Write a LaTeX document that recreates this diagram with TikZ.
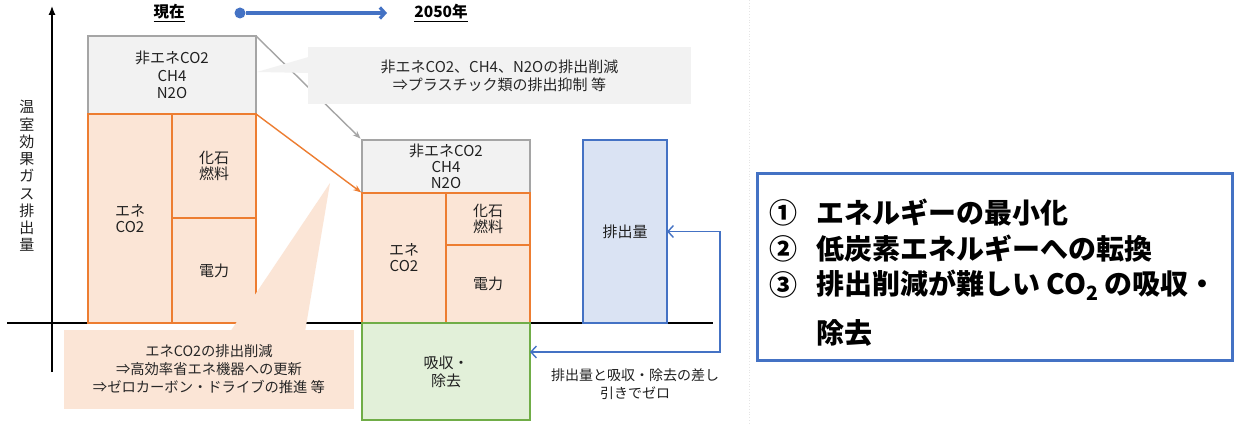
\documentclass[tikz,border=0pt]{standalone}
\usepackage{fontspec}
\setmainfont{Noto Sans CJK JP}
\usetikzlibrary{arrows.meta}
\definecolor{gfill}{HTML}{F2F2F2}
\definecolor{gline}{HTML}{A5A5A5}
\definecolor{ofill}{HTML}{FBE5D6}
\definecolor{oline}{HTML}{ED7D31}
\definecolor{grfill}{HTML}{E2F0D9}
\definecolor{grline}{HTML}{70AD47}
\definecolor{bfill}{HTML}{DAE3F3}
\definecolor{bline}{HTML}{4472C4}
\definecolor{txt}{HTML}{202020}
\begin{document}
\begin{tikzpicture}[x=1pt,y=-1pt,
  every node/.style={font=\fontsize{15}{16}\selectfont, text=txt},
  cell/.style={draw, line width=1.2pt, inner sep=0pt, outer sep=0pt, align=center},
  graycell/.style={cell, draw=gline, fill=gfill},
  orangecell/.style={cell, draw=oline, fill=ofill},
  greencell/.style={cell, draw=grline, fill=grfill},
  bluecell/.style={cell, draw=bline, fill=bfill},
  axisline/.style={draw=black, line width=1.2pt},
  callout/.style={inner sep=0pt, outer sep=0pt, align=center},
  conn/.style={line width=1.4pt},
  barb/.style={bline, line width=1.4pt, {Straight Barb[length=5.5pt,width=12pt]}-{Straight Barb[length=5.5pt,width=12pt]}},
  heading/.style={font=\bfseries\fontsize{15.5}{18}\selectfont, text=black},
  bigtext/.style={font=\bfseries\fontsize{28}{30}\selectfont, text=black, anchor=west, inner sep=0pt}
]
\useasboundingbox (0,0) rectangle (1236,425);
\fill[white] (0,0) rectangle (1236,425);

% faint guide line
\draw[black!10, dotted, line width=0.8pt] (749,0) -- (749,425);

% axes
\coordinate (xa0) at (7,323);
\coordinate (xa1) at (713,323);
\coordinate (ya0) at (52,372);
\coordinate (ya1) at (52,6);
\draw[axisline] (xa0) -- (xa1);
\draw[axisline, -{Latex[length=9pt,width=7pt]}] (ya0) -- (ya1);
\node[align=center, font=\fontsize{15}{17.25}\selectfont] (ylab) at (27,176) {温\\室\\効\\果\\ガ\\ス\\排\\出\\量};

% top timeline
\node[heading] (now) at (169,13) {\underline{現在}};
\node[heading] (y2050) at (441,13) {\underline{2050年}};
\node[circle, fill=bline, minimum size=11pt, inner sep=0pt] (dot) at (240,13) {};
\coordinate (tl1) at (387,13);
\draw[bline, line width=3.2pt, -{Straight Barb[length=5pt,width=11pt]}] (dot) -- (tl1);

% current stack
\node[graycell, minimum width=168pt, minimum height=78pt, font=\fontsize{15}{17.5}\selectfont] (g1) at (172,75) {非エネCO2\\CH4\\N2O};
\node[orangecell, minimum width=84pt, minimum height=209pt] (e1) at (130,218.5) {エネ\\CO2};
\node[orangecell, minimum width=84pt, minimum height=104pt] (f1) at (214,166) {化石\\燃料};
\node[orangecell, minimum width=84pt, minimum height=105pt] (p1) at (214,270.5) {電力};

% 2050 stack
\node[graycell, minimum width=168pt, minimum height=53pt, font=\fontsize{15}{16}\selectfont] (g2) at (446,166.5) {非エネCO2\\CH4\\N2O};
\node[orangecell, minimum width=84pt, minimum height=130pt] (e2) at (404,258) {エネ\\CO2};
\node[orangecell, minimum width=84pt, minimum height=52pt] (f2) at (488,219) {化石\\燃料};
\node[orangecell, minimum width=84pt, minimum height=78pt] (p2) at (488,284) {電力};
\node[greencell, minimum width=168pt, minimum height=97pt, font=\fontsize{15}{18}\selectfont] (gr) at (446,371.5) {吸収・\\除去};

% emission box
\node[bluecell, minimum width=84pt, minimum height=183pt] (em) at (625,231.5) {排出量};

% transition arrows
\draw[conn, gline, -{Stealth[length=8pt,width=6pt]}, shorten >=2pt] (g1.north east) -- (g2.north west);
\draw[conn, oline, -{Stealth[length=8pt,width=6pt]}, shorten >=1pt] (f1.north east) -- (e2.north west);

% callouts
\fill[gfill] (257,72) -- (312,56) -- (312,73) -- cycle;
\node[callout, fill=gfill, minimum width=383pt, minimum height=57pt, font=\fontsize{15}{18}\selectfont, text=black!85] (c1) at (499.5,75.5) {非エネCO2、CH4、N2Oの排出削減\\⇒プラスチック類の排出抑制 等};
\fill[ofill] (330,183) -- (230,332) -- (305,332) -- cycle;
\node[callout, fill=ofill, minimum width=290pt, minimum height=79pt, font=\fontsize{14.3}{18}\selectfont, text=black!85] (c2) at (209,369.5) {エネCO2の排出削減\\⇒高効率省エネ機器への更新\\⇒ゼロカーボン・ドライブの推進 等};

% net zero connector
\coordinate (bc) at (720,231.5);
\draw[barb] (em.east) -- (bc) |- ([yshift=19.5pt]gr.east);
\node[align=center, font=\fontsize{14}{18}\selectfont] (nz) at (635,384) {排出量と吸収・除去の差し\\引きでゼロ};

% summary box
\node[draw=bline, line width=3pt, fill=white, minimum width=475pt, minimum height=187pt, inner sep=0pt] (sum) at (994.5,266.5) {};
\node[bigtext] (l1n) at (769,213) {①};
\node[bigtext] (l1) at (816,213) {エネルギーの最小化};
\node[bigtext] (l2n) at (769,249) {②};
\node[bigtext] (l2) at (816,249) {低炭素エネルギーへの転換};
\node[bigtext] (l3n) at (769,285) {③};
\node[bigtext] (l3) at (816,285) {排出削減が難しい CO\textsubscript{2} の吸収・};
\node[bigtext] (l4) at (816,333) {除去};
\end{tikzpicture}
\end{document}
